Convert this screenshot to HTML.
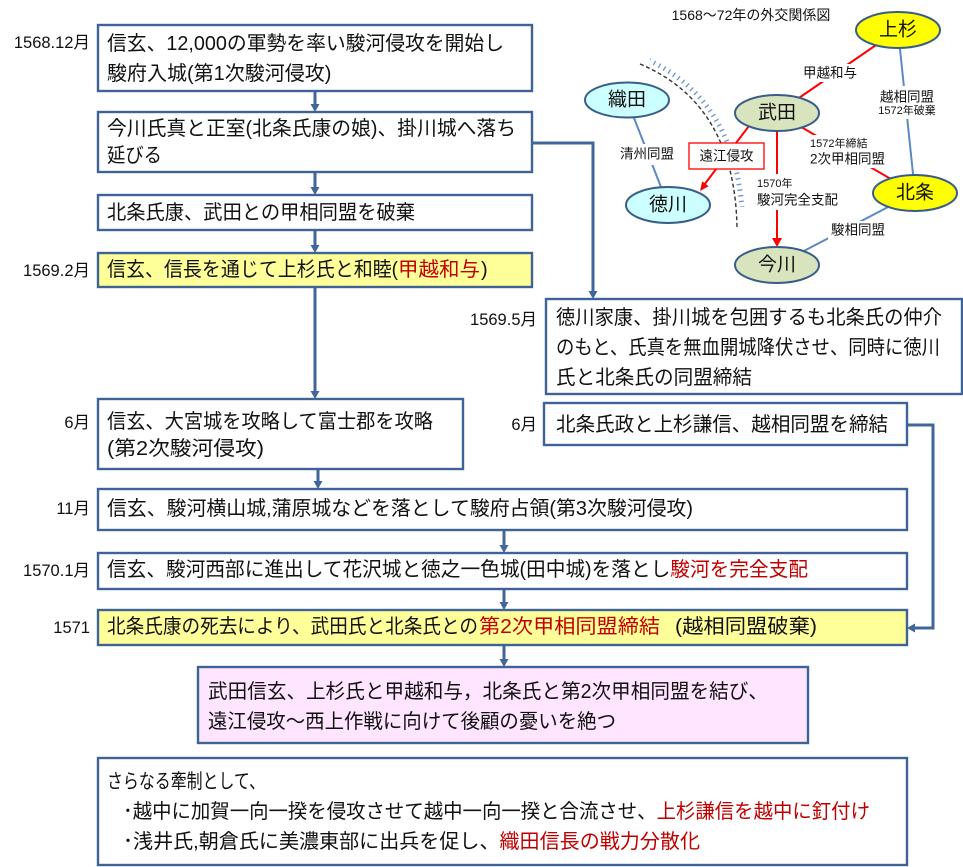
<!DOCTYPE html>
<html><head><meta charset="utf-8">
<style>
html,body{margin:0;padding:0;background:#fff;width:963px;height:867px;overflow:hidden}
svg{display:block}
text{font-family:"Liberation Sans","Noto Sans CJK JP",sans-serif;dominant-baseline:central;fill:#111}
.b{font-size:20px}
.d{font-size:16.5px;text-anchor:end}
.r{fill:#C00000}
.n{font-size:19px;text-anchor:middle}
.l{font-size:13.5px}
.s{font-size:11px}
.c{text-anchor:middle}
</style></head>
<body>
<svg width="963" height="867" viewBox="0 0 963 867" xmlns="http://www.w3.org/2000/svg">
<defs>
<clipPath id="tk"><rect x="650" y="50" width="110" height="157"/></clipPath>
</defs>

<!-- ===== Flow connectors ===== -->
<g stroke="#41669B" stroke-width="3" fill="none">
<line x1="315" y1="91" x2="315" y2="105"/>
<line x1="315" y1="172" x2="315" y2="188"/>
<line x1="315" y1="230" x2="315" y2="246"/>
<line x1="315" y1="287" x2="315" y2="392"/>
<line x1="318" y1="469" x2="318" y2="482"/>
<line x1="504" y1="530" x2="504" y2="546"/>
<line x1="504" y1="589" x2="504" y2="603"/>
<line x1="504" y1="645" x2="504" y2="660"/>
<polyline points="532,143 593,143 593,292"/>
<polyline points="907,425 933,425 933,628 914,628"/>
</g>
<g fill="#41669B">
<polygon points="310.5,104 319.5,104 315,112"/>
<polygon points="310.5,187 319.5,187 315,195"/>
<polygon points="310.5,245 319.5,245 315,253"/>
<polygon points="310.5,391 319.5,391 315,399"/>
<polygon points="313.5,481 322.5,481 318,489"/>
<polygon points="499.5,545 508.5,545 504,553"/>
<polygon points="499.5,602 508.5,602 504,610"/>
<polygon points="499.5,659 508.5,659 504,667"/>
<polygon points="588.5,291 597.5,291 593,299"/>
<polygon points="915,623.5 915,632.5 907,628"/>
</g>

<!-- ===== Boxes ===== -->
<g stroke="#3F6397" stroke-width="2.4">
<rect x="98" y="25" width="434" height="66" fill="#fff"/>
<rect x="98" y="112" width="434" height="60" fill="#fff"/>
<rect x="98" y="195" width="434" height="35" fill="#fff"/>
<rect x="98" y="253" width="434" height="34" fill="#FFFF99"/>
<rect x="546" y="299" width="416" height="95" fill="#fff"/>
<rect x="98" y="399" width="365" height="70" fill="#fff"/>
<rect x="544" y="403" width="363" height="42" fill="#fff"/>
<rect x="98" y="489" width="809" height="41" fill="#fff"/>
<rect x="98" y="553" width="809" height="36" fill="#fff"/>
<rect x="98" y="610" width="809" height="35" fill="#FFFF99"/>
<rect x="198" y="667" width="610" height="76" fill="#FFE5FF"/>
<rect x="98" y="758" width="809" height="107" fill="#fff"/>
</g>

<!-- ===== Date labels ===== -->
<text class="d" x="90" y="43">1568.12月</text>
<text class="d" x="90" y="271">1569.2月</text>
<text class="d" x="537" y="320">1569.5月</text>
<text class="d" x="90" y="423">6月</text>
<text class="d" x="537" y="425">6月</text>
<text class="d" x="90" y="509">11月</text>
<text class="d" x="90" y="571">1570.1月</text>
<text class="d" x="90" y="628">1571</text>

<!-- ===== Box texts ===== -->
<text class="b" x="107" y="44" textLength="397" lengthAdjust="spacingAndGlyphs">信玄、12,000の軍勢を率い駿河侵攻を開始し</text>
<text class="b" x="107" y="74">駿府入城(第1次駿河侵攻)</text>

<text class="b" x="107" y="129" textLength="409" lengthAdjust="spacingAndGlyphs">今川氏真と正室(北条氏康の娘)、掛川城へ落ち</text>
<text class="b" x="107" y="156" textLength="55" lengthAdjust="spacingAndGlyphs">延びる</text>

<text class="b" x="107" y="213" textLength="308" lengthAdjust="spacingAndGlyphs">北条氏康、武田との甲相同盟を破棄</text>

<text class="b" x="107" y="270" textLength="291" lengthAdjust="spacingAndGlyphs">信玄、信長を通じて上杉氏と和睦(</text>
<text class="b r" x="398" y="270" textLength="82" lengthAdjust="spacingAndGlyphs">甲越和与</text>
<text class="b" x="481" y="270">)</text>

<text class="b" x="556" y="318" textLength="386" lengthAdjust="spacingAndGlyphs">徳川家康、掛川城を包囲するも北条氏の仲介</text>
<text class="b" x="556" y="348" textLength="384" lengthAdjust="spacingAndGlyphs">のもと、氏真を無血開城降伏させ、同時に徳川</text>
<text class="b" x="556" y="378" textLength="196" lengthAdjust="spacingAndGlyphs">氏と北条氏の同盟締結</text>

<text class="b" x="107" y="422" textLength="326" lengthAdjust="spacingAndGlyphs">信玄、大宮城を攻略して富士郡を攻略</text>
<text class="b" x="107" y="449" textLength="157" lengthAdjust="spacingAndGlyphs">(第2次駿河侵攻)</text>

<text class="b" x="556" y="425" textLength="332" lengthAdjust="spacingAndGlyphs">北条氏政と上杉謙信、越相同盟を締結</text>

<text class="b" x="107" y="509" textLength="586" lengthAdjust="spacingAndGlyphs">信玄、駿河横山城,蒲原城などを落として駿府占領(第3次駿河侵攻)</text>

<text class="b" x="107" y="570" textLength="701" lengthAdjust="spacingAndGlyphs">信玄、駿河西部に進出して花沢城と徳之一色城(田中城)を落とし<tspan class="r">駿河を完全支配</tspan></text>

<text class="b" x="107" y="627" textLength="371" lengthAdjust="spacingAndGlyphs">北条氏康の死去により、武田氏と北条氏との</text>
<text class="b r" x="479" y="627" textLength="181" lengthAdjust="spacingAndGlyphs">第2次甲相同盟締結</text>
<text class="b" x="675" y="627" textLength="142" lengthAdjust="spacingAndGlyphs">(越相同盟破棄)</text>

<text class="b" x="208" y="692" textLength="560" lengthAdjust="spacingAndGlyphs">武田信玄、上杉氏と甲越和与，北条氏と第2次甲相同盟を結び、</text>
<text class="b" x="208" y="722" textLength="408" lengthAdjust="spacingAndGlyphs">遠江侵攻～西上作戦に向けて後顧の憂いを絶つ</text>

<text class="b" x="107" y="782" textLength="158" lengthAdjust="spacingAndGlyphs">さらなる牽制として、</text>
<text class="b" x="123" y="812" textLength="747" lengthAdjust="spacingAndGlyphs">･越中に加賀一向一揆を侵攻させて越中一向一揆と合流させ、<tspan class="r">上杉謙信を越中に釘付け</tspan></text>
<text class="b" x="123" y="842" textLength="577" lengthAdjust="spacingAndGlyphs">･浅井氏,朝倉氏に美濃東部に出兵を促し、<tspan class="r">織田信長の戦力分散化</tspan></text>

<!-- ===== Diagram ===== -->
<text x="751" y="15" style="font-size:14px;text-anchor:middle">1568～72年の外交関係図</text>

<!-- dashed border curve -->
<path d="M640,64 Q735,104 737,228" fill="none" stroke="#333" stroke-width="1.4" stroke-dasharray="4 2.6"/>
<path d="M643.5,58 Q740.5,99.5 743,228" fill="none" stroke="#6A94CC" stroke-width="5" stroke-dasharray="1.3 4.4" clip-path="url(#tk)"/>

<!-- relation lines -->
<g stroke="#5B89C2" stroke-width="2">
<line x1="898" y1="30" x2="915" y2="193"/>
<line x1="627" y1="100" x2="668" y2="205"/>
<line x1="915" y1="193" x2="777" y2="265"/>
</g>
<g stroke="#FF0000" stroke-width="2">
<line x1="898" y1="30" x2="777" y2="113"/>
<line x1="777" y1="113" x2="915" y2="193"/>
<line x1="752" y1="122" x2="704" y2="185"/>
<line x1="777" y1="131" x2="777" y2="239"/>
</g>
<g fill="#FF0000">
<polygon points="700,191 708.6,186.2 702.2,181.4"/>
<polygon points="772,238 782,238 777,247"/>
</g>

<!-- label backgrounds -->
<g fill="#fff">
<rect x="802" y="64" width="56" height="18"/>
<rect x="877" y="86" width="60" height="33"/>
<rect x="808" y="135" width="82" height="33"/>
<rect x="618" y="144" width="59" height="21"/>
<rect x="755" y="174" width="87" height="36"/>
<rect x="828" y="221" width="60" height="19"/>
</g>

<!-- ellipses -->
<g stroke="#385D8A" stroke-width="2">
<ellipse cx="898" cy="30" rx="42" ry="18" fill="#FFFF00"/>
<ellipse cx="777" cy="113" rx="42" ry="18" fill="#D7E4BD"/>
<ellipse cx="627" cy="100" rx="42" ry="17.5" fill="#CCFFFF"/>
<ellipse cx="668" cy="205" rx="42" ry="18" fill="#CCFFFF"/>
<ellipse cx="915" cy="193" rx="42" ry="18" fill="#FFFF00"/>
<ellipse cx="777" cy="265" rx="42" ry="18" fill="#D7E4BD"/>
</g>
<text class="n" x="898" y="30">上杉</text>
<text class="n" x="777" y="113">武田</text>
<text class="n" x="627" y="100">織田</text>
<text class="n" x="668" y="205">徳川</text>
<text class="n" x="915" y="193">北条</text>
<text class="n" x="777" y="265">今川</text>

<!-- 遠江侵攻 box -->
<rect x="689" y="143" width="75" height="26" fill="#fff" stroke="#FF0000" stroke-width="1.3"/>
<text class="l c" x="726.5" y="156">遠江侵攻</text>

<!-- line labels -->
<text class="l c" x="830" y="73">甲越和与</text>
<text class="l c" x="907" y="97">越相同盟</text>
<text class="s c" x="907" y="111">1572年破棄</text>
<text class="s" x="810" y="144">1572年締結</text>
<text class="l" x="810" y="159">2次甲相同盟</text>
<text class="l c" x="647" y="154">清州同盟</text>
<text class="s" x="757" y="184">1570年</text>
<text class="l" x="757" y="200">駿河完全支配</text>
<text class="l c" x="858" y="230">駿相同盟</text>
</svg>
</body></html>
